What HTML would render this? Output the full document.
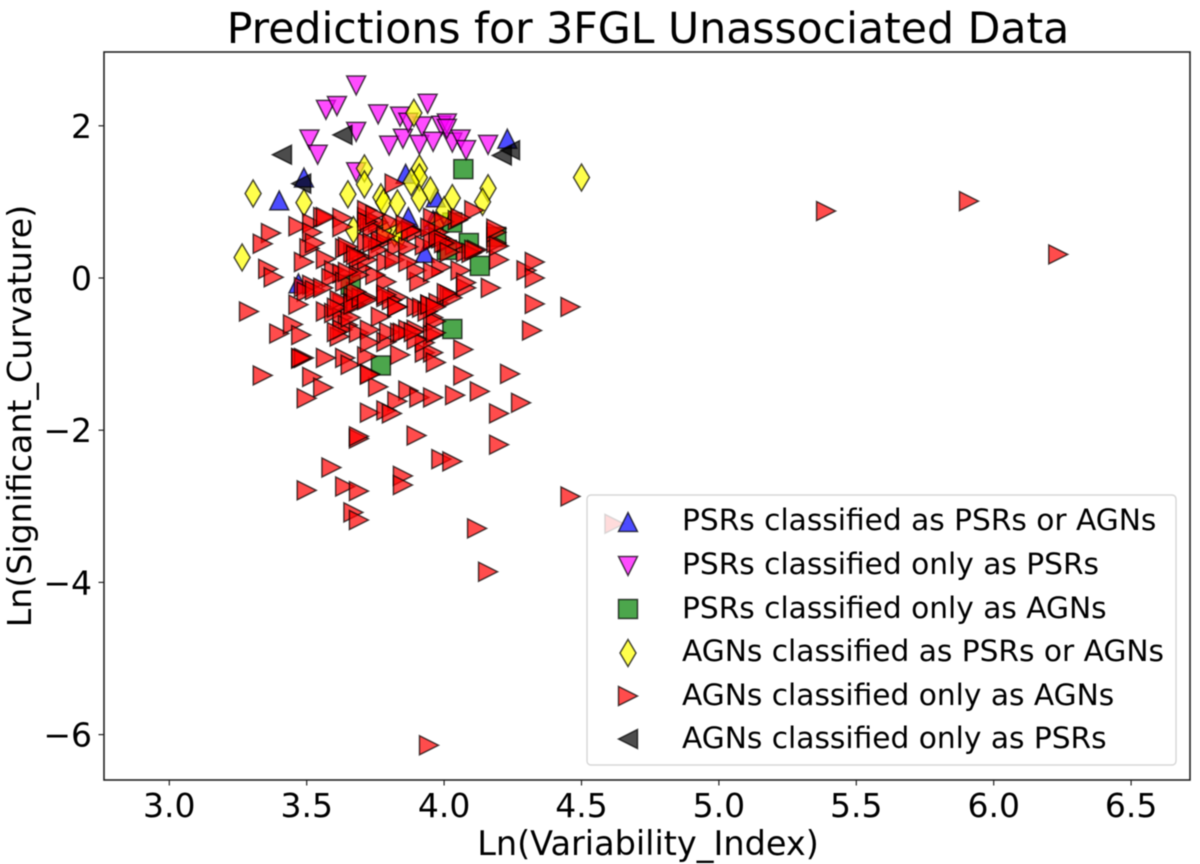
<!DOCTYPE html>
<html>
<head>
<meta charset="utf-8">
<title>Predictions for 3FGL Unassociated Data</title>
<style>
html,body{margin:0;padding:0;background:#fff;width:1200px;height:864px;overflow:hidden}
svg{display:block;filter:blur(0.4px)}
text{font-family:"DejaVu Sans",sans-serif;fill:#000}
</style>
</head>
<body>
<svg id="chart" xmlns="http://www.w3.org/2000/svg" width="1200" height="864" viewBox="0 0 1200 864">
<rect x="0" y="0" width="1200" height="864" fill="#fff"/>
<rect x="104" y="52" width="1086" height="728" fill="#fff"/>
<g id="marks"></g>
<rect x="104" y="52" width="1086" height="728" fill="none" stroke="#222" stroke-width="1.6"/>
<g id="ticks"></g>
<text x="648" y="43" font-size="42.6" text-anchor="middle">Predictions for 3FGL Unassociated Data</text>
<text x="648" y="855" font-size="33.5" text-anchor="middle">Ln(Variability_Index)</text>
<text transform="translate(31,416) rotate(-90)" font-size="33.2" text-anchor="middle">Ln(Significant_Curvature)</text>
<g>
<rect x="587" y="495" width="589" height="270" rx="4" ry="4" fill="#fff" fill-opacity="0.8" stroke="#ccc" stroke-opacity="0.8" stroke-width="1.4"/>
<g id="legend-markers"></g>
<text x="682" y="530" font-size="29.65">PSRs classified as PSRs or AGNs</text>
<text x="682" y="574" font-size="29.65">PSRs classified only as PSRs</text>
<text x="682" y="618" font-size="29.65">PSRs classified only as AGNs</text>
<text x="682" y="661" font-size="29.65">AGNs classified as PSRs or AGNs</text>
<text x="682" y="705" font-size="29.65">AGNs classified only as AGNs</text>
<text x="682" y="748" font-size="29.65">AGNs classified only as PSRs</text>
</g>
</svg>
<script>
const xTickValues = [3.0, 3.5, 4.0, 4.5, 5.0, 5.5, 6.0, 6.5];
const yTickValues = [2, 0, -2, -4, -6];
const xTickLabels = ["3.0", "3.5", "4.0", "4.5", "5.0", "5.5", "6.0", "6.5"];
const yTickLabels = ["2", "0", "\u22122", "\u22124", "\u22126"];

const psrEither = [[4.23,1.83],[3.49,1.32],[3.40,1.02],[3.86,1.37],[3.97,1.06],[3.87,0.80],[3.96,0.76],[3.93,0.33],[3.47,-0.07]];
const psrOnly = [[3.68,2.53],[3.57,2.21],[3.61,2.26],[3.76,2.15],[3.84,2.12],[3.94,2.29],[3.92,1.99],[3.99,2.00],[4.01,2.03],[4.03,1.78],[4.06,1.82],[4.08,1.68],[4.16,1.75],[3.80,1.74],[3.85,1.83],[3.91,1.75],[3.96,1.79],[3.51,1.82],[3.54,1.62],[3.68,1.92],[3.68,1.39],[3.87,2.04],[4.01,1.96]];
const psrAgn = [[4.07,1.43],[4.09,0.46],[4.13,0.16],[4.19,0.54],[4.03,0.73],[4.01,0.37],[4.03,-0.67],[3.77,-1.15],[3.66,-0.09]];
const agnEither = [[4.50,1.32],[3.305,1.11],[3.49,0.99],[3.65,1.10],[3.71,1.44],[3.71,1.23],[3.89,2.17],[3.91,1.44],[3.91,1.32],[3.88,1.26],[3.95,1.15],[3.91,1.05],[4.03,1.05],[4.16,1.18],[4.14,1.00],[3.77,1.06],[3.78,0.99],[3.83,0.98],[4.00,0.89],[3.97,0.69],[3.82,0.59],[3.78,0.63],[3.67,0.63],[3.265,0.27],[3.84,0.56]];
const agnOnly = [[3.34,-1.28],[3.52,-1.30],[3.56,-1.44],[3.50,-1.58],[3.76,-1.43],[3.87,-1.48],[3.83,-1.62],[3.91,-1.57],[3.96,-1.57],[4.04,-1.54],[4.13,-1.49],[4.20,-1.78],[4.28,-1.64],[4.24,-1.26],[4.07,-1.28],[3.73,-1.77],[3.79,-1.74],[3.81,-1.78],[3.69,-2.11],[3.69,-2.08],[3.90,-2.07],[4.20,-2.19],[3.99,-2.38],[4.03,-2.41],[3.59,-2.49],[3.50,-2.79],[3.64,-2.74],[3.69,-2.80],[3.85,-2.60],[3.85,-2.72],[4.46,-2.87],[4.12,-3.29],[3.67,-3.08],[3.69,-3.18],[4.16,-3.86],[3.945,-6.14],[4.62,-3.23],[5.39,0.88],[5.91,1.01],[6.235,0.31],[4.07,-0.94],[3.57,-1.05],[3.48,-1.06],[3.49,-1.05],[3.64,-1.05],[3.66,-1.14],[3.72,-1.03],[3.73,-1.26],[3.84,-1.01],[3.93,-0.98],[3.96,-0.98],[3.97,-1.11],[3.37,0.59],[3.47,0.68],[3.52,0.72],[3.52,0.60],[3.34,0.45],[3.56,0.80],[3.57,0.80],[3.63,0.79],[3.63,0.67],[3.51,0.39],[3.53,0.46],[3.64,0.39],[3.67,0.33],[3.49,0.21],[3.57,0.25],[3.36,0.12],[3.38,0.01],[3.60,0.10],[3.63,0.06],[3.59,0.00],[3.49,-0.12],[3.52,-0.09],[3.50,-0.18],[3.53,-0.16],[3.56,-0.13],[3.47,-0.35],[3.29,-0.44],[3.40,-0.73],[3.45,-0.61],[3.48,-0.75],[3.57,-0.44],[3.60,-0.46],[3.63,-0.33],[3.67,-0.25],[3.70,-0.26],[3.72,-0.26],[3.67,-0.33],[3.63,-0.52],[3.65,-0.62],[3.63,-0.68],[3.62,-0.77],[3.61,-0.71],[3.69,-0.72],[3.77,-0.51],[3.79,-0.25],[3.83,-0.25],[3.83,-0.38],[3.79,-0.84],[3.80,-0.71],[3.84,-0.72],[3.87,-0.68],[3.90,-0.68],[3.96,-0.75],[3.90,-0.38],[3.92,-0.39],[3.95,-0.35],[3.98,-0.33],[4.02,-0.22],[4.08,-0.13],[4.17,-0.13],[3.96,-0.52],[3.91,-0.05],[3.79,-0.05],[3.75,0.04],[3.70,0.13],[3.72,0.24],[3.79,0.21],[3.90,0.10],[3.99,0.14],[4.06,0.10],[4.20,0.24],[4.30,0.10],[4.33,0.21],[4.33,0.00],[4.33,-0.34],[4.32,-0.69],[4.46,-0.38],[4.19,0.46],[4.19,0.60],[4.12,0.37],[4.08,0.34],[3.72,0.80],[3.72,0.89],[3.73,0.72],[3.76,0.73],[3.81,0.73],[3.88,0.63],[3.90,0.60],[3.96,0.79],[4.05,0.76],[3.98,0.60],[4.01,0.46],[4.04,0.43],[3.93,0.43],[3.96,0.50],[4.11,0.89],[3.65,0.41],[3.72,0.47],[3.77,0.46],[3.76,0.37],[3.83,0.41],[3.87,0.41],[3.69,0.26],[3.82,0.24],[3.87,0.21],[3.96,0.08],[3.81,-0.29],[3.68,-0.35],[3.66,-0.52],[3.73,-0.68],[3.93,-0.85],[3.90,-0.81],[4.08,-0.06],[4.03,-0.26],[3.97,-0.57],[3.94,-0.44],[3.82,1.24],[4.19,0.65],[4.20,0.42],[3.99,0.52],[4.10,0.33],[3.77,0.50],[3.88,0.62],[3.74,0.66],[3.79,0.55],[3.74,0.46],[3.72,0.74],[3.75,0.83],[3.86,0.70],[3.98,0.54],[4.00,0.46],[3.95,0.66],[4.11,0.37],[3.68,0.30],[3.62,-0.29],[3.61,-0.39],[3.67,-0.35],[3.70,-0.26],[3.72,-0.29],[3.68,-0.18],[3.79,-0.22],[3.83,-0.38],[3.95,-0.35],[3.97,-0.38],[4.01,-0.20],[3.85,-0.72],[3.89,-0.71],[3.97,-0.72],[3.73,-0.85],[3.73,-1.27],[3.48,-1.05],[4.00,0.74],[4.06,0.79],[4.02,0.34],[3.64,-0.05],[3.69,0.04],[3.65,0.08]];
const agnAsPsr = [[3.41,1.62],[3.63,1.88],[3.48,1.24],[4.24,1.68],[4.21,1.61]];

const X0 = 169.3, XSCALE = 274.8, Y0 = 278, YSCALE = 76.1;
function xAxis(v) { return X0 + (v - 3) * XSCALE; }
function yAxis(v) { return Y0 - v * YSCALE; }

const NS = "http://www.w3.org/2000/svg";
const SHAPES = {
  up: function (c, d) { return "M" + c + " " + (d - 9.5) + "L" + (c + 9.5) + " " + (d + 9.5) + "L" + (c - 9.5) + " " + (d + 9.5) + "Z"; },
  down: function (c, d) { return "M" + c + " " + (d + 9.5) + "L" + (c + 9.5) + " " + (d - 9.5) + "L" + (c - 9.5) + " " + (d - 9.5) + "Z"; },
  right: function (c, d) { return "M" + (c + 9.5) + " " + d + "L" + (c - 9.5) + " " + (d - 9.5) + "L" + (c - 9.5) + " " + (d + 9.5) + "Z"; },
  left: function (c, d) { return "M" + (c - 9.5) + " " + d + "L" + (c + 9.5) + " " + (d - 9.5) + "L" + (c + 9.5) + " " + (d + 9.5) + "Z"; },
  square: function (c, d) { return "M" + (c - 9.5) + " " + (d - 9.5) + "H" + (c + 9.5) + "V" + (d + 9.5) + "H" + (c - 9.5) + "Z"; },
  diamond: function (c, d) { return "M" + c + " " + (d - 13.5) + "L" + (c + 8) + " " + d + "L" + c + " " + (d + 13.5) + "L" + (c - 8) + " " + d + "Z"; }
};

function drawMarker(parent, shape, color, cx, cy) {
  const p = document.createElementNS(NS, "path");
  p.setAttribute("d", SHAPES[shape](cx, cy));
  p.setAttribute("fill", color);
  p.setAttribute("fill-opacity", "0.7");
  p.setAttribute("stroke", "#000");
  p.setAttribute("stroke-opacity", "0.7");
  p.setAttribute("stroke-width", "1.5");
  p.setAttribute("stroke-linejoin", "miter");
  parent.appendChild(p);
  return p;
}

const marks = document.getElementById("marks");
psrEither.forEach(function (d) {
  const el = drawMarker(marks, "up", "#0000ff", xAxis(d[0]), yAxis(d[1]));
  
  
});
psrOnly.forEach(function (d) {
  const el = drawMarker(marks, "down", "#ff00ff", xAxis(d[0]), yAxis(d[1]));
  
  
});
psrAgn.forEach(function (d) {
  const el = drawMarker(marks, "square", "#008000", xAxis(d[0]), yAxis(d[1]));
  
  
});
agnEither.forEach(function (d) {
  const el = drawMarker(marks, "diamond", "#ffff00", xAxis(d[0]), yAxis(d[1]));
  
  
});
agnOnly.forEach(function (d) {
  const el = drawMarker(marks, "right", "#ff0000", xAxis(d[0]), yAxis(d[1]));
  
  
});
agnAsPsr.forEach(function (d) {
  const el = drawMarker(marks, "left", "#000000", xAxis(d[0]), yAxis(d[1]));
  
  
});

const ticks = document.getElementById("ticks");
xTickValues.forEach(function (v, i) {
  const px = xAxis(v);
  const line = document.createElementNS(NS, "line");
  line.setAttribute("x1", px);
  line.setAttribute("x2", px);
  line.setAttribute("y1", 780);
  line.setAttribute("y2", 785.5);
  line.setAttribute("stroke", "#222");
  line.setAttribute("stroke-width", "1.2");
  
  
  ticks.appendChild(line);
  const t = document.createElementNS(NS, "text");
  t.setAttribute("x", px);
  t.setAttribute("y", 817);
  t.setAttribute("font-size", "33");
  t.setAttribute("text-anchor", "middle");
  
  
  t.textContent = xTickLabels[i];
  ticks.appendChild(t);
});
yTickValues.forEach(function (v, i) {
  const py = yAxis(v);
  const line = document.createElementNS(NS, "line");
  line.setAttribute("x1", 98.5);
  line.setAttribute("x2", 104);
  line.setAttribute("y1", py);
  line.setAttribute("y2", py);
  line.setAttribute("stroke", "#222");
  line.setAttribute("stroke-width", "1.2");
  
  
  ticks.appendChild(line);
  const t = document.createElementNS(NS, "text");
  t.setAttribute("x", 92);
  t.setAttribute("y", py + 12);
  t.setAttribute("font-size", "33");
  t.setAttribute("text-anchor", "end");
  
  
  t.textContent = yTickLabels[i];
  ticks.appendChild(t);
});

const legendMarkers = document.getElementById("legend-markers");
const lm1 = drawMarker(legendMarkers, "up", "#0000ff", 628, 522);


const lm2 = drawMarker(legendMarkers, "down", "#ff00ff", 628, 566);


const lm3 = drawMarker(legendMarkers, "square", "#008000", 628, 609);


const lm4 = drawMarker(legendMarkers, "diamond", "#ffff00", 628, 653);


const lm5 = drawMarker(legendMarkers, "right", "#ff0000", 628, 696);


const lm6 = drawMarker(legendMarkers, "left", "#000000", 628, 739);


</script>
</body>
</html>
